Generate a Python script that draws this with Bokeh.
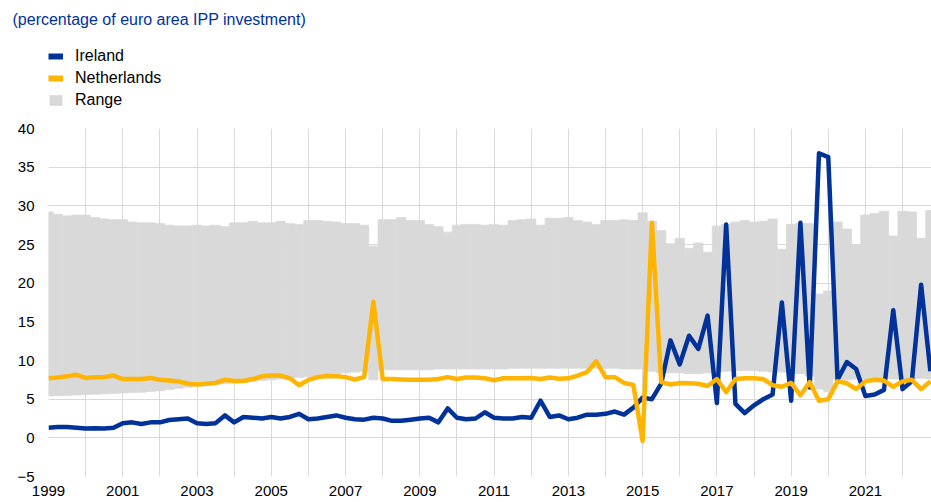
from bokeh.plotting import figure
from bokeh.models import Range1d, FixedTicker, Legend, LegendItem, ColumnDataSource
from bokeh.layouts import column
from bokeh.embed import file_html
from bokeh.resources import INLINE

# ---------------- data ----------------
quarters = [f"{y}Q{q}" for y in range(1999, 2023) for q in range(1, 5)]

ireland = [
    1.3, 1.4, 1.4, 1.3,
    1.2, 1.25, 1.2, 1.3,
    1.9, 2.0, 1.8, 2.0,
    2.0, 2.3, 2.4, 2.5,
    1.9, 1.8, 1.9, 2.9,
    2.0, 2.7, 2.6, 2.5,
    2.7, 2.5, 2.7, 3.1,
    2.4, 2.5, 2.7, 2.9,
    2.6, 2.4, 2.35, 2.6,
    2.5, 2.2, 2.2, 2.35,
    2.5, 2.6, 2.0, 3.8,
    2.6, 2.4, 2.5, 3.3,
    2.6, 2.5, 2.5, 2.7,
    2.6, 4.8, 2.7, 2.9,
    2.4, 2.6, 3.0, 3.0,
    3.1, 3.4, 3.0, 3.9,
    5.2, 5.0, 7.0, 12.6,
    9.5, 13.2, 11.5, 15.8,
    4.5, 27.6, 4.4, 3.2,
    4.2, 5.0, 5.6, 17.5,
    4.8, 27.8, 6.5, 36.8,
    36.3, 7.5, 9.8, 8.9,
    5.4, 5.6, 6.2, 16.5,
    6.3, 7.3, 19.8, 8.6,
]

netherlands = [
    7.7, 7.8, 7.95, 8.15,
    7.75, 7.85, 7.85, 8.05,
    7.6, 7.6, 7.6, 7.75,
    7.5, 7.4, 7.3, 7.0,
    6.9, 7.0, 7.1, 7.5,
    7.35, 7.35, 7.6, 7.95,
    8.05, 8.05, 7.7, 6.8,
    7.5, 7.85, 8.0, 7.95,
    7.85, 7.55, 7.85, 17.6,
    7.6, 7.6, 7.55, 7.5,
    7.5, 7.5, 7.6, 7.85,
    7.6, 7.8, 7.8, 7.7,
    7.45, 7.7, 7.7, 7.7,
    7.75, 7.6, 7.8, 7.65,
    7.7, 8.05, 8.5, 9.9,
    7.85, 7.85, 7.1, 6.85,
    -0.4, 27.8, 7.2, 6.9,
    7.1, 7.05, 7.0, 6.7,
    7.6, 5.9, 7.6, 7.7,
    7.7, 7.6, 6.8, 6.6,
    7.1, 5.5, 7.2, 4.8,
    5.0, 7.3, 7.05, 6.3,
    7.3, 7.5, 7.4, 6.6,
    7.3, 7.5, 6.3, 7.3,
]

range_low = [
    5.4, 5.45, 5.5, 5.55,
    5.6, 5.65, 5.7, 5.75,
    5.8, 5.85, 5.9, 6.0,
    6.1, 6.25, 6.4, 6.55,
    6.7, 6.8, 6.9, 7.0,
    7.1, 7.2, 7.3, 7.4,
    7.5, 7.6, 7.7, 7.8,
    7.9, 8.0, 8.1, 8.2,
    8.4, 8.5, 8.6, 7.5,
    8.8, 8.8, 8.8, 8.8,
    8.8, 8.8, 8.9, 8.9,
    8.9, 8.9, 8.9, 8.9,
    8.9, 8.9, 9.0, 9.0,
    9.0, 9.0, 9.0, 9.0,
    9.0, 9.0, 9.0, 9.0,
    9.0, 9.0, 8.9, 8.9,
    8.9, 8.6, 8.4, 8.4,
    8.4, 8.3, 8.3, 8.4,
    8.5, 8.6, 8.7, 8.7,
    8.7, 8.6, 8.5, 8.5,
    8.4, 8.3, 8.0, 6.3,
    6.0, 7.6, 7.5, 7.6,
    7.6, 7.6, 7.7, 7.6,
    7.6, 7.6, 7.7, 7.6,
]

range_high = [
    29.2, 28.9, 28.7, 28.8,
    28.8, 28.5, 28.3, 28.2,
    28.2, 27.9, 27.8, 27.8,
    27.7, 27.5, 27.4, 27.4,
    27.5, 27.4, 27.5, 27.3,
    27.8, 27.8, 28.0, 27.8,
    27.8, 28.0, 27.7, 27.6,
    28.1, 28.1, 28.0, 27.9,
    27.7, 27.7, 27.5, 24.8,
    28.2, 28.2, 28.5, 28.1,
    28.1, 27.6, 27.3, 26.6,
    27.5, 27.6, 27.6, 27.5,
    27.6, 27.5, 28.1, 28.2,
    28.3, 27.5, 28.4, 28.4,
    28.5, 28.1, 27.9, 27.6,
    28.1, 28.1, 28.2, 28.1,
    29.1, 28.0, 26.8, 25.1,
    25.8, 24.5, 25.2, 24.0,
    27.4, 27.6, 27.9, 28.1,
    27.9, 28.0, 28.3, 24.4,
    27.6, 27.7, 27.7, 18.6,
    19.0, 27.9, 27.0, 25.0,
    28.8, 29.0, 29.3, 26.1,
    29.3, 29.2, 25.8, 29.4,
]

x_tick_years = list(range(1999, 2023, 2))
y_ticks = [-5, 0, 5, 10, 15, 20, 25, 30, 35, 40]

title_text = "(percentage of euro area IPP investment)"
series_names = ["Ireland", "Netherlands", "Range"]

# ---------------- styles ----------------
BLUE = "#003299"
YELLOW = "#FFB400"
GREY = "#D9D9D9"
FONT = "Liberation Sans"
W = 931
HEAD_H = 118

xs = [int(q[:4]) + (int(q[5]) - 1) / 4 for q in quarters]
src = ColumnDataSource(dict(x=xs, ie=ireland, nl=netherlands, lo=range_low, hi=range_high))

# ---------------- header (title + legend) ----------------
# its ranges lie far away from the data, so its renderers only serve the legend
head = figure(width=W, height=HEAD_H, output_backend="svg", toolbar_location=None,
              x_range=Range1d(0, 1), y_range=Range1d(0, 1),
              x_axis_type=None, y_axis_type=None, title=title_text,
              min_border_left=0, min_border_right=0, min_border_top=0, min_border_bottom=0)
head.outline_line_color = None
head.grid.visible = False
head.title.text_font = FONT
head.title.text_font_size = "16px"
head.title.text_font_style = "normal"
head.title.text_color = BLUE
head.title.align = "left"
head.title.offset = -36
head.title.standoff = 16

h_ie = head.line("x", "ie", source=src, line_color=BLUE, line_width=6)
h_nl = head.line("x", "nl", source=src, line_color=YELLOW, line_width=6)
h_rg = head.vbar(x="x", top="hi", bottom="lo", width=0.25, source=src,
                 fill_color=GREY, line_color=GREY)

legend = Legend(items=[
    LegendItem(label=series_names[0], renderers=[h_ie]),
    LegendItem(label=series_names[1], renderers=[h_nl]),
    LegendItem(label=series_names[2], renderers=[h_rg]),
], location=(0, 7))
legend.margin = 0
legend.padding = 0
legend.spacing = 0
legend.glyph_width = 15
legend.glyph_height = 12
legend.label_height = 22
legend.label_standoff = 12
legend.label_text_font = FONT
legend.label_text_font_size = "16px"
legend.label_text_color = "#000000"
legend.border_line_color = None
legend.background_fill_alpha = 0
head.add_layout(legend, "center")

# ---------------- main chart ----------------
p = figure(width=W, height=502 - HEAD_H, output_backend="svg", toolbar_location=None,
           x_range=Range1d(1999, 2022.78), y_range=Range1d(-5, 40),
           min_border_left=48, min_border_right=0, min_border_top=10, min_border_bottom=26)
p.outline_line_color = None
p.background_fill_color = "white"

p.vbar(x="x", bottom="lo", top="hi", width=0.25, source=src,
       fill_color=GREY, line_color=GREY, line_width=0.8)
p.line("x", "ie", source=src, line_color=BLUE, line_width=4.5, line_join="round")
p.line("x", "nl", source=src, line_color=YELLOW, line_width=4.5, line_join="round")

for ax in (p.xaxis[0], p.yaxis[0]):
    ax.axis_line_color = None
    ax.major_tick_line_color = None
    ax.minor_tick_line_color = None
    ax.major_tick_in = 0
    ax.major_tick_out = 0
    ax.minor_tick_in = 0
    ax.minor_tick_out = 0
    ax.major_label_text_font = FONT
    ax.major_label_text_font_size = "15px"
    ax.major_label_text_color = "#000000"

p.xaxis.ticker = FixedTicker(ticks=x_tick_years)
p.xaxis.major_label_standoff = 9
p.yaxis.ticker = FixedTicker(ticks=y_ticks)
p.yaxis.major_label_standoff = 14

p.xgrid.ticker = FixedTicker(ticks=list(range(1999, 2024)))
p.ygrid.ticker = FixedTicker(ticks=y_ticks)
for g in (p.xgrid[0], p.ygrid[0]):
    g.grid_line_color = "#D9D9D9"
    g.grid_line_width = 1

layout = column(head, p, spacing=0)
open("out.html", "w").write(file_html(layout, INLINE))
